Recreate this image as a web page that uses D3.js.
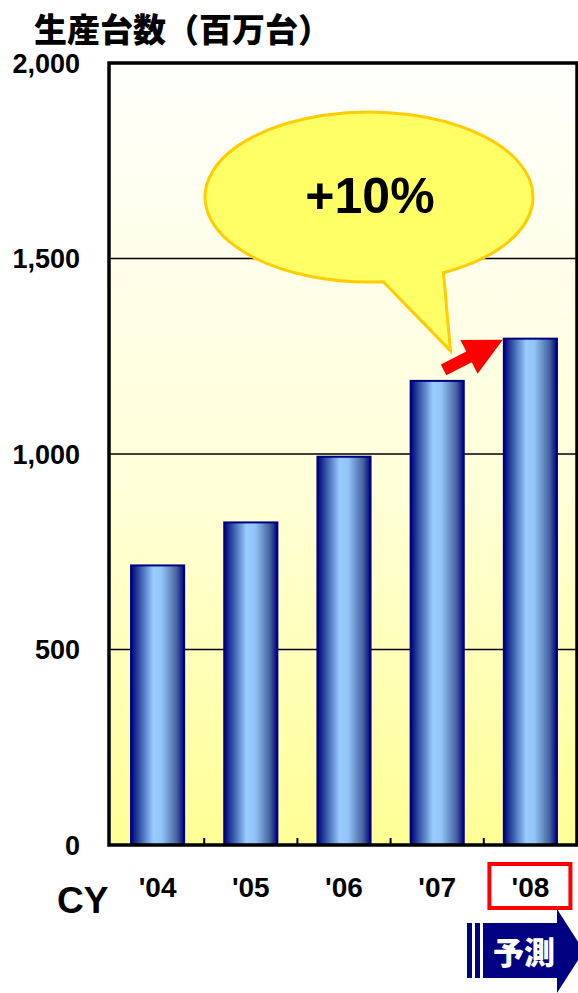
<!DOCTYPE html>
<html>
<head>
<meta charset="utf-8">
<script src="https://cdn.jsdelivr.net/npm/d3@7"></script>
<style>
  body { margin: 0; background: #fff; }
  svg { display: block; }
  .lat { font-family: "Liberation Sans", Arial, sans-serif; font-weight: bold; }
  .cjk { font-family: "Noto Sans CJK JP", sans-serif; font-weight: 900; }
</style>
</head>
<body>
<svg id="chart" width="578" height="993"></svg>
<script>
// chart data
var years = ["'04", "'05", "'06", "'07", "'08"];
var units = [715, 825, 993, 1187, 1295];   // 百万台
var yTicks = [0, 500, 1000, 1500, 2000];
var yTickLabels = ["0", "500", "1,000", "1,500", "2,000"];
var gridValues = [500, 1000, 1500];
var forecastYear = "'08";

var svg = d3.select("#chart");

// plot box (note: "top" is taken by window.top)
var pLeft = 109, pRight = 577, pTop = 63, pBottom = 845;

var x = d3.scaleBand().domain(years).range([pLeft + 2, pRight])
    .paddingInner(0.43).paddingOuter(0.215);
var y = d3.scaleLinear().domain([0, 2000]).range([pBottom, pTop]);

var defs = svg.append("defs");

var bg = defs.append("linearGradient").attr("id", "bg")
    .attr("x1", 0).attr("y1", 0).attr("x2", 0).attr("y2", 1);
bg.append("stop").attr("offset", "0%").attr("stop-color", "#fffffb");
bg.append("stop").attr("offset", "55%").attr("stop-color", "#ffffd8");
bg.append("stop").attr("offset", "100%").attr("stop-color", "#ffff96");

var bar = defs.append("linearGradient").attr("id", "bar")
    .attr("x1", 0).attr("y1", 0).attr("x2", 1).attr("y2", 0);
bar.append("stop").attr("offset", "0%").attr("stop-color", "#000080");
bar.append("stop").attr("offset", "14%").attr("stop-color", "#2c4aa0");
bar.append("stop").attr("offset", "42%").attr("stop-color", "#99ccff");
bar.append("stop").attr("offset", "58%").attr("stop-color", "#92c4f8");
bar.append("stop").attr("offset", "86%").attr("stop-color", "#45629f");
bar.append("stop").attr("offset", "100%").attr("stop-color", "#000080");

// title
svg.append("text").attr("class", "cjk")
    .attr("x", 34).attr("y", 42)
    .attr("font-size", 33)
    .text("生産台数（百万台）");

// plot background
svg.append("rect")
    .attr("x", pLeft).attr("y", pTop)
    .attr("width", pRight - pLeft).attr("height", pBottom - pTop)
    .attr("fill", "url(#bg)");

// gridlines
svg.selectAll(".grid").data(gridValues).enter().append("line")
    .attr("x1", pLeft).attr("x2", pRight)
    .attr("y1", function (d) { return y(d); })
    .attr("y2", function (d) { return y(d); })
    .attr("stroke", "#000").attr("stroke-width", 1.5);

// bars
svg.selectAll(".bar").data(units).enter().append("rect")
    .attr("x", function (d, i) { return x(years[i]); })
    .attr("y", function (d) { return y(d); })
    .attr("width", x.bandwidth())
    .attr("height", function (d) { return pBottom - y(d); })
    .attr("fill", "url(#bar)")
    .attr("stroke", "#000080").attr("stroke-width", 2);

// tick marks between categories
var step = x.step();
svg.selectAll(".tk").data(years.slice(1)).enter().append("line")
    .attr("x1", function (d) { return x(d) - step * x.paddingInner() / 2; })
    .attr("x2", function (d) { return x(d) - step * x.paddingInner() / 2; })
    .attr("y1", pBottom).attr("y2", pBottom - 7)
    .attr("stroke", "#000").attr("stroke-width", 2);

// frame
svg.append("rect")
    .attr("x", pLeft).attr("y", pTop)
    .attr("width", pRight - pLeft).attr("height", pBottom - pTop)
    .attr("fill", "none")
    .attr("stroke", "#000").attr("stroke-width", 3.5);

// y labels
svg.selectAll(".yl").data(yTicks).enter().append("text")
    .attr("class", "lat")
    .attr("x", 80)
    .attr("y", function (d) { return y(d) + 9.5; })
    .attr("text-anchor", "end")
    .attr("font-size", 27)
    .text(function (d, i) { return yTickLabels[i]; });

// forecast box
var fx = x(forecastYear) + x.bandwidth() / 2;
svg.append("rect")
    .attr("x", fx - 41).attr("y", 864)
    .attr("width", 81).attr("height", 44)
    .attr("fill", "#fff")
    .attr("stroke", "#ff0000").attr("stroke-width", 4);

// x labels
svg.selectAll(".xl").data(years).enter().append("text")
    .attr("class", "lat")
    .attr("x", function (d) { return x(d) + x.bandwidth() / 2; })
    .attr("y", 897)
    .attr("text-anchor", "middle")
    .attr("font-size", 28)
    .text(function (d) { return d; });

svg.append("text").attr("class", "lat")
    .attr("x", 57).attr("y", 913)
    .attr("font-size", 37)
    .text("CY");

// speech bubble
var cx = 369, cy = 197, rx = 164, ry = 85;
var a1 = 85 * Math.PI / 180, a2 = 63 * Math.PI / 180;
var p1 = [cx + rx * Math.cos(a1), cy + ry * Math.sin(a1)];
var p2 = [cx + rx * Math.cos(a2), cy + ry * Math.sin(a2)];
var tip = [x("'07") + x.bandwidth() * 0.75, y(units[3]) - 30];
svg.append("path")
    .attr("d", "M" + p2 + " A" + rx + "," + ry + " 0 1 0 " + p1 + " L" + tip + " Z")
    .attr("fill", "#ffff66")
    .attr("stroke", "#ffcc00").attr("stroke-width", 3)
    .attr("stroke-linejoin", "miter");

svg.append("text").attr("class", "lat")
    .attr("x", 370).attr("y", 213)
    .attr("text-anchor", "middle")
    .attr("font-size", 50)
    .text("+10%");

// red growth arrow
var ax0 = x("'07") + x.bandwidth() * 0.62, ay0 = y(units[3]) - 11;
var ax1 = x("'08") - 1, ay1 = y(units[4]) + 1;
var ang = Math.atan2(ay1 - ay0, ax1 - ax0) * 180 / Math.PI;
var len = Math.hypot(ax1 - ax0, ay1 - ay0);
var hl = 38;
svg.append("polygon")
    .attr("transform", "translate(" + ax0 + "," + ay0 + ") rotate(" + ang + ")")
    .attr("points", [[0, -6], [len - hl, -6], [len - hl, -19], [len, 0],
                     [len - hl, 19], [len - hl, 6], [0, 6]].join(" "))
    .attr("fill", "#ff0000");

// 予測 arrow
var navy = "#000080";
svg.append("rect").attr("x", 467).attr("y", 923).attr("width", 5).attr("height", 55).attr("fill", navy);
svg.append("rect").attr("x", 475).attr("y", 923).attr("width", 5).attr("height", 55).attr("fill", navy);
svg.append("path")
    .attr("d", "M483,923 L557,923 L557,909 L584,951 L557,993 L557,978 L483,978 Z")
    .attr("fill", navy);
svg.append("text").attr("class", "cjk")
    .attr("x", 524).attr("y", 964)
    .attr("text-anchor", "middle")
    .attr("font-size", 31)
    .attr("fill", "#fff")
    .text("予測");
</script>
</body>
</html>
